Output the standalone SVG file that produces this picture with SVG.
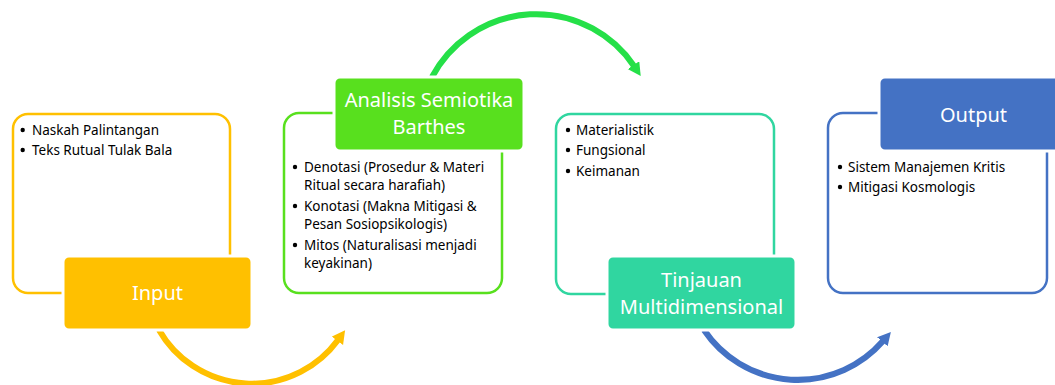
<svg xmlns="http://www.w3.org/2000/svg" width="1055" height="385" viewBox="0 0 1055 385">
<style>
.frame{fill:#fff;stroke-width:2.5}
.head{stroke:#fff;stroke-width:3}
.ht{font-family:"Noto Sans","Open Sans",sans-serif;font-size:20px;fill:#fff;text-anchor:middle}
.bt{font-family:"Noto Sans","Open Sans",sans-serif;font-size:13.5px;fill:#000}
.dot{fill:#000}
.arc{fill:none;stroke-width:6}
</style>
<defs>
<marker id="hy" markerUnits="userSpaceOnUse" markerWidth="16" markerHeight="16" refX="1" refY="7" orient="auto"><path d="M0,0 L13,7 L0,14 z" fill="#FFC000"/></marker>
<marker id="hg" markerUnits="userSpaceOnUse" markerWidth="16" markerHeight="16" refX="1" refY="7" orient="auto"><path d="M0,0 L13,7 L0,14 z" fill="#25E048"/></marker>
<marker id="hb" markerUnits="userSpaceOnUse" markerWidth="16" markerHeight="16" refX="1" refY="7" orient="auto"><path d="M0,0 L13,7 L0,14 z" fill="#4472C4"/></marker>
</defs>
<g id="connectors">
<path class="arc" stroke="#FFC000" d="M159 330 A107 107 0 0 0 338 340" marker-end="url(#hy)"/>
<path class="arc" stroke="#25E048" d="M432 77 A118 118 0 0 1 634 66" marker-end="url(#hg)"/>
<path class="arc" stroke="#4472C4" d="M704 330 A113 113 0 0 0 883 341" marker-end="url(#hb)"/>
</g>
<g id="input">
<rect class="frame" stroke="#FFC000" x="13" y="114" width="217" height="179" rx="15"/>
<circle class="dot" cx="22.7" cy="130" r="2.2"/><text class="bt" x="32" y="135">Naskah Palintangan</text>
<circle class="dot" cx="22.7" cy="150" r="2.2"/><text class="bt" x="32" y="155">Teks Rutual Tulak Bala</text>
<rect class="head" fill="#FFC000" x="63" y="256" width="189" height="74" rx="6"/>
<text class="ht" x="157.5" y="300">Input</text>
</g>
<g id="analisis">
<rect class="frame" stroke="#58E01E" x="284" y="113" width="218" height="180" rx="15"/>
<circle class="dot" cx="295" cy="167" r="2.2"/><text class="bt" x="304" y="172">Denotasi (Prosedur &amp; Materi</text>
<text class="bt" x="304" y="190">Ritual secara harafiah)</text>
<circle class="dot" cx="295" cy="206" r="2.2"/><text class="bt" x="304" y="211">Konotasi (Makna Mitigasi &amp;</text>
<text class="bt" x="304" y="229">Pesan Sosiopsikologis)</text>
<circle class="dot" cx="295" cy="245" r="2.2"/><text class="bt" x="304" y="250">Mitos (Naturalisasi menjadi</text>
<text class="bt" x="304" y="268">keyakinan)</text>
<rect class="head" fill="#58E01E" x="334" y="77" width="190" height="74" rx="6"/>
<text class="ht" x="429" y="107">Analisis Semiotika</text>
<text class="ht" x="429" y="134">Barthes</text>
</g>
<g id="tinjauan">
<rect class="frame" stroke="#30D6A0" x="556" y="114" width="218" height="180" rx="15"/>
<circle class="dot" cx="568" cy="130" r="2.2"/><text class="bt" x="576" y="135">Materialistik</text>
<circle class="dot" cx="568" cy="150" r="2.2"/><text class="bt" x="576" y="155">Fungsional</text>
<circle class="dot" cx="568" cy="171" r="2.2"/><text class="bt" x="576" y="176">Keimanan</text>
<rect class="head" fill="#30D6A0" x="607" y="256" width="189" height="74" rx="6"/>
<text class="ht" x="701.5" y="287">Tinjauan</text>
<text class="ht" x="701.5" y="314">Multidimensional</text>
</g>
<g id="output">
<rect class="frame" stroke="#4472C4" x="828" y="113" width="219" height="180" rx="15"/>
<circle class="dot" cx="840" cy="167" r="2.2"/><text class="bt" x="848" y="172">Sistem Manajemen Kritis</text>
<circle class="dot" cx="840" cy="187" r="2.2"/><text class="bt" x="848" y="192">Mitigasi Kosmologis</text>
<rect class="head" fill="#4472C4" x="879" y="77" width="189" height="74" rx="6"/>
<text class="ht" x="973.5" y="122">Output</text>
</g>
</svg>
